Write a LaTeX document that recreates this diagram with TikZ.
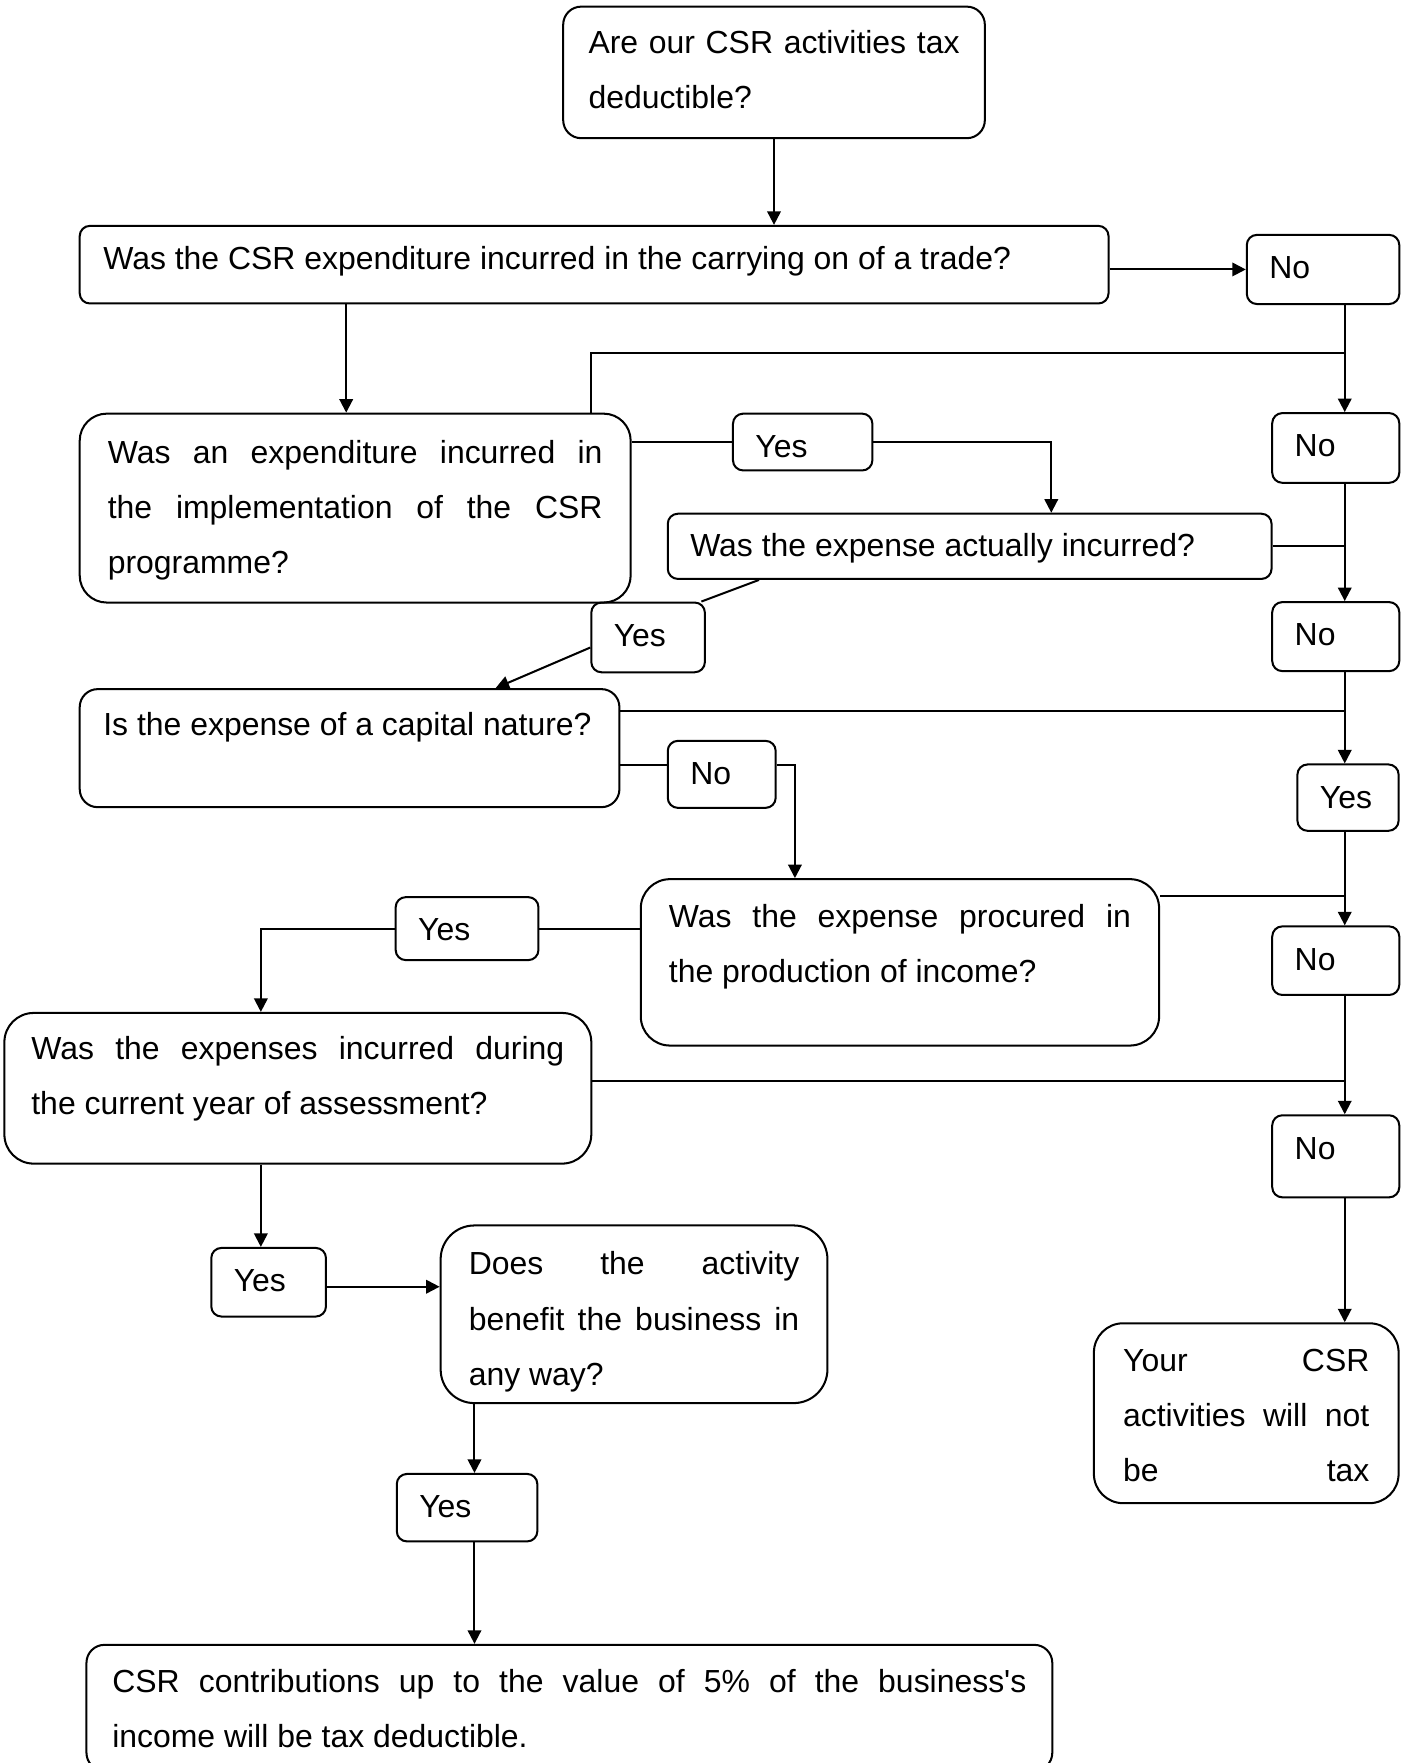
\documentclass[tikz,border=0pt]{standalone}
\usepackage{fontspec}
\setmainfont{Liberation Sans}[Ligatures=TeXOff]
\usepackage{tikz}
\usetikzlibrary{arrows.meta}

\begin{document}
\begin{tikzpicture}[
        x=0.5pt, y=-0.5pt,
        line width=0.9pt,
        box/.style={draw, anchor=north west, align=justify, inner ysep=0pt,
            font=\fontsize{14.2}{24.5}\selectfont},
        ques/.style={box, rounded corners=#1},
        ques/.default=13pt,
        ans/.style={box, rounded corners=4.5pt, inner xsep=10pt, text height=19.5pt},
        >={Triangle[length=6pt,width=6pt]}
    ]
        \useasboundingbox (0,0) rectangle (1248,1568);

        % questions and answers
        \node[ques=8pt, inner xsep=11.25pt, text width=165pt, text height=21pt, text depth=37.5pt] (q0) at (500,5) {Are our CSR activities tax deductible?};
        \node[ques=4.5pt, inner xsep=10.5pt, text width=436.5pt, text height=19.5pt, text depth=15pt] (q1) at (70,200) {Was the CSR expenditure incurred in the carrying on of a trade?};
        \node[ans, text width=47.8pt, text depth=11.25pt] (n1) at (1108,208) {No};
        \node[ques=12pt, inner xsep=12.5pt, text width=220pt, text height=22pt, text depth=62pt] (q2) at (70,367) {Was an expenditure incurred in\linebreak the implementation of the CSR\linebreak programme?};
        \node[ans, text width=42pt, text depth=5.75pt] (y1) at (651,367) {Yes};
        \node[ans, text width=36.5pt, text depth=11.5pt] (n2) at (1130.6,366.5) {No};
        \node[ques=4.5pt, inner xsep=10pt, text width=248.5pt, text height=19pt, text depth=10pt] (q3) at (593,456) {Was the expense actually incurred?};
        \node[ans, text width=30.5pt, text depth=11.5pt] (y2) at (525,535) {Yes};
        \node[ans, text width=36.5pt, text depth=11.2pt] (n3) at (1130.6,534.6) {No};
        \node[ques=8pt, inner xsep=10.5pt, text width=219pt, text height=20.5pt, text depth=32pt] (q4) at (70,612) {Is the expense of a capital nature?};
        \node[ans, text width=28pt, text depth=10.3pt] (n4) at (593,658) {No};
        \node[ans, text width=25pt, text depth=10pt] (y3) at (1153,679) {Yes};
        \node[ques, inner xsep=12.5pt, text width=205.5pt, text height=21.5pt, text depth=52.5pt] (q5) at (569,781) {Was the expense procured in\linebreak the production of income?};
        \node[ans, text width=43.5pt, text depth=8.5pt] (y4) at (351,797) {Yes};
        \node[ans, text width=36.5pt, text depth=11pt] (n5) at (1130.6,823) {No};
        \node[ques, inner xsep=12pt, text width=237pt, text height=20.5pt, text depth=46.5pt] (q6) at (3,900) {Was the expenses incurred during\linebreak the current year of assessment?};
        \node[ans, text width=36.5pt, text depth=17pt] (n6) at (1130.6,991) {No};
        \node[ques=15pt, inner xsep=12.5pt, text width=147pt, text height=22pt, text depth=57pt] (q7) at (391,1089) {Does the activity\linebreak benefit the business in\linebreak any way?};
        \node[ans, text width=31pt, text depth=11pt] (y5) at (187,1109) {Yes};
        \node[ques, inner xsep=13pt, text width=109.5pt, text height=21.5pt, text depth=58.5pt] (q8) at (972,1176) {Your\hfill CSR\linebreak activities will not\linebreak be\hfill tax};
        \node[ans, text width=42.5pt, text depth=10.5pt] (y6) at (352,1310) {Yes};
        \node[ques=8pt, inner xsep=11.5pt, text width=406.5pt, text height=21pt, text depth=35pt] (q9) at (76,1462) {CSR contributions up to the value of 5\% of the business's\linebreak income will be tax deductible.};

        % lanes and joins
        \coordinate (c1) at (1196,0);
        \coordinate (c2) at (232,0);
        \coordinate (c3) at (422,0);
        \coordinate (c4) at (935,0);
        \coordinate (c5) at (707,0);
        \coordinate (j1) at (1196,314);
        \coordinate (j3) at (1196,632);
        \coordinate (j4) at (1196,797);
        \coordinate (j5) at (1196,961);

        \draw[->] (q0.south) -- (q0.south |- q1.north);
        \draw[->] (q1.east |- n1.west) -- (n1.west);
        \draw[->] ([xshift=-4pt]q2.north |- q1.south) -- ([xshift=-4pt]q2.north);
        \draw ([xshift=-18pt]q2.north east) |- (j1);
        \draw[->] (n1.south -| c1) -- (n2.north -| c1);
        \draw (q2.east |- y1.west) -- (y1.west);
        \draw[->] (y1.east) -| (q3.north -| c4);
        \draw (q3.east) -- (q3.east -| c1);
        \draw[->] (n2.south -| c1) -- (n3.north -| c1);
        \draw ([xshift=41pt]q3.south west) -- ([xshift=-2pt]y2.north east);
        \draw[->] ([yshift=-4.5pt]y2.west) -- ([xshift=-55.5pt]q4.north east);
        \draw (q4.east |- j3) -- (j3);
        \draw ([yshift=4pt]n4.west) -- ([yshift=4pt]n4.west -| q4.east);
        \draw[->] ([yshift=4pt]n4.east) -| (q5.north -| c5);
        \draw[->] (n3.south -| c1) -- (y3.north -| c1);
        \draw (q5.east |- j4) -- (j4);
        \draw[->] (y3.south -| c1) -- (n5.north -| c1);
        \draw (y4.east) -- (y4.east -| q5.west);
        \draw[->] (y4.west) -| (q6.north -| c2);
        \draw (q6.east |- j5) -- (j5);
        \draw[->] (n5.south -| c1) -- (n6.north -| c1);
        \draw[->] (n6.south -| c1) -- (q8.north -| c1);
        \draw[->] (q6.south -| c2) -- (y5.north -| c2);
        \draw[->] ([yshift=-2pt]y5.east) -- ([yshift=-2pt]y5.east -| q7.west);
        \draw[->] (q7.south -| c3) -- (y6.north -| c3);
        \draw[->] (y6.south -| c3) -- (q9.north -| c3);
\end{tikzpicture}
\end{document}
